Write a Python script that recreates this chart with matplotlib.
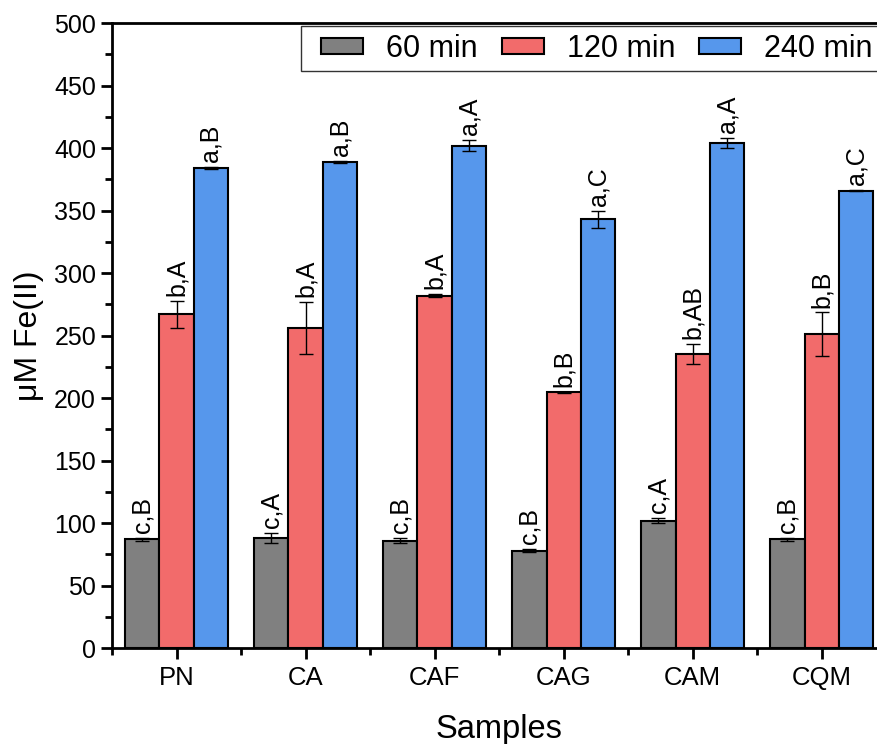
import matplotlib
matplotlib.use("Agg")
import matplotlib.pyplot as plt
from matplotlib.path import Path
from matplotlib.ticker import MultipleLocator
import numpy as np

plt.rcParams["font.family"] = ["Liberation Sans", "DejaVu Sans"]

samples = ["PN", "CA", "CAF", "CAG", "CAM", "CQM"]
series = ["60 min", "120 min", "240 min"]
colors = ["#808080", "#F26B6B", "#5697EC"]

v60 = [87, 88, 86, 78, 102, 87]
e60 = [1, 4, 2, 1, 2, 1]
v120 = [267, 256, 282, 204.5, 235, 251]
e120 = [11, 21, 1, 0.5, 8, 17.5]
v240 = [384, 389, 402, 343, 404, 366]
e240 = [1, 1, 4.5, 7, 4, 0.5]

lab60 = ["c,B", "c,A", "c,B", "c,B", "c,A", "c,B"]
lab120 = ["b,A", "b,A", "b,A", "b,B", "b,AB", "b,B"]
lab240 = ["a,B", "a,B", "a,A", "a,C", "a,A", "a,C"]

values = [v60, v120, v240]
errors = [e60, e120, e240]
labels = [lab60, lab120, lab240]


def wide_box(x0, y0, width, height, mutation_size):
    # legend frame with more room left/right than top/bottom
    px = 0.4 * mutation_size
    return Path([(x0 - px, y0), (x0 + width + px, y0), (x0 + width + px, y0 + height),
                 (x0 - px, y0 + height), (x0 - px, y0)], closed=True)


fig = plt.figure(figsize=(8.77, 7.44), dpi=100)
# axes run past the right edge, as in the cropped original
ax = fig.add_axes([0.1277, 0.129, 0.883, 0.840])

x = np.arange(len(samples))
w = 0.8 / 3
for i, (vals, errs, labs) in enumerate(zip(values, errors, labels)):
    xs = x + (i - 1) * w
    ax.bar(xs, vals, width=w, color=colors[i], edgecolor="black", linewidth=1.5,
           label=series[i], zorder=2)
    ax.errorbar(xs, vals, yerr=errs, fmt="none", ecolor="black", elinewidth=1,
                capsize=5, capthick=1, zorder=3)
    for xi, v, e, t in zip(xs, vals, errs, labs):
        ax.annotate(t, (xi, v + e), xytext=(0, 3.5), textcoords="offset points",
                    rotation=90, ha="center", va="bottom", fontsize=18)

ax.set_xlim(-0.5, len(samples) - 0.5)
ax.set_ylim(0, 500)
ax.yaxis.set_major_locator(MultipleLocator(50))
ax.yaxis.set_minor_locator(MultipleLocator(25))
ax.set_xticks(x)
ax.set_xticklabels(samples)
ax.set_xticks(np.arange(-0.5, len(samples), 1.0), minor=True)
ax.tick_params(axis="both", which="major", direction="out", length=8, width=2)
ax.tick_params(axis="both", which="minor", direction="out", length=5, width=2)
ax.tick_params(axis="y", which="major", labelsize=18)
ax.tick_params(axis="x", which="major", labelsize=18.5, pad=5)
for s in ax.spines.values():
    s.set_linewidth(2)

ax.set_xlabel("Samples", fontsize=23.5, labelpad=17)
ax.set_ylabel("μM Fe(II)", fontsize=23, labelpad=7)

leg = ax.legend(ncol=3, loc="upper left", bbox_to_anchor=(0.2603, 0.9952),
                fontsize=22, frameon=True, fancybox=False, edgecolor="black",
                handlelength=1.38, handleheight=0.46, columnspacing=0.78,
                handletextpad=0.75, borderaxespad=0, borderpad=0.25)
leg.get_frame().set_linewidth(1)
leg.get_frame().set_boxstyle(wide_box)

fig.savefig("out.png", dpi=100)
